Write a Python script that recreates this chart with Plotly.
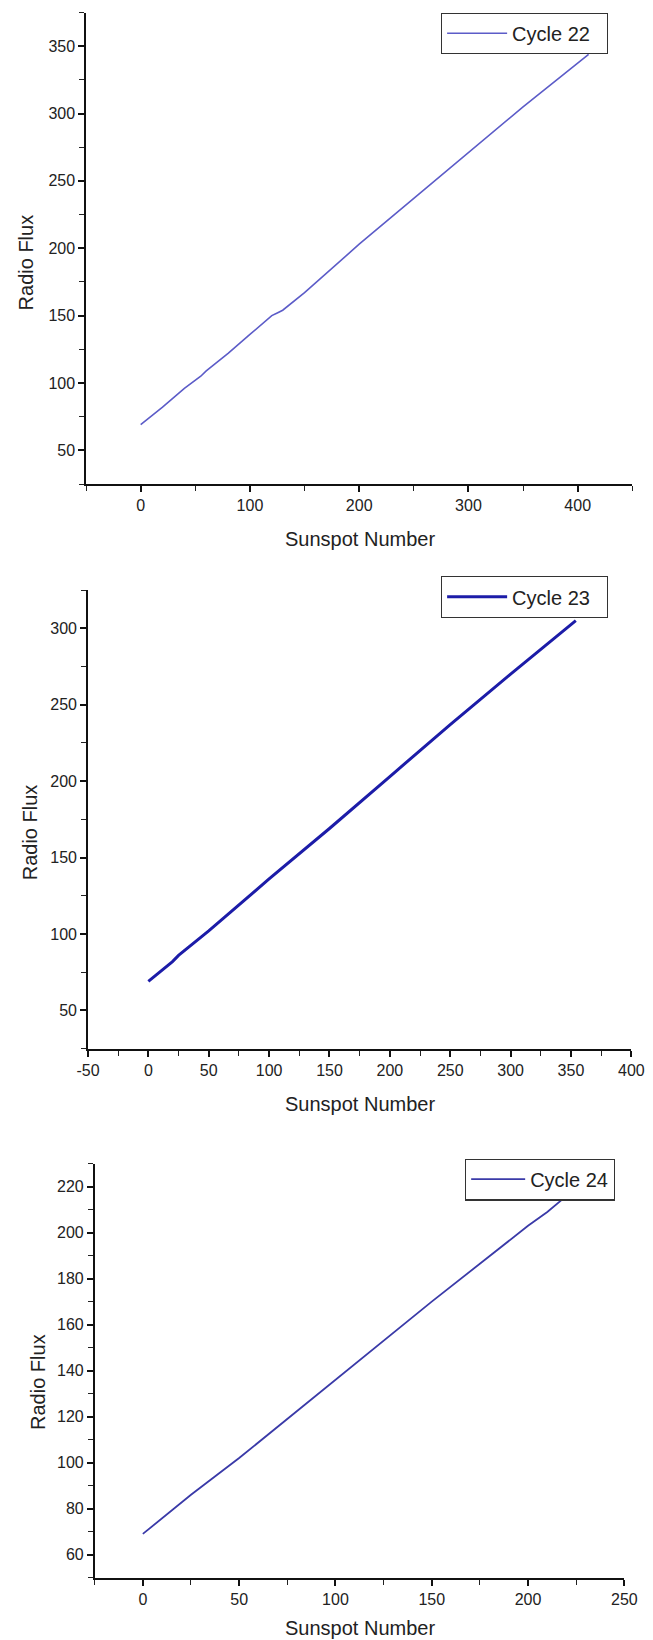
import plotly.graph_objects as go

# ---- data ----
c22_ssn = [0, 20, 40, 55, 60, 80, 100, 115, 120, 125, 130, 150, 200, 250, 300, 350, 410]
c22_flux = [69, 82, 96, 105, 109, 122, 136, 146, 150, 152, 154, 167, 203, 237, 271, 305, 344]

c23_ssn = [0, 20, 25, 50, 100, 150, 200, 250, 300, 320, 354]
c23_flux = [69, 82, 86, 102, 136, 169, 203, 237, 270, 283, 305]

c24_ssn = [0, 22, 25, 50, 100, 150, 200, 210, 220]
c24_flux = [69, 84, 86, 102, 136, 170, 203, 209, 216]

labels = ["Cycle 22", "Cycle 23", "Cycle 24"]
x_title = "Sunspot Number"
y_title = "Radio Flux"
x2_ticks = [-50, 0, 50, 100, 150, 200, 250, 300, 350, 400]

W, H = 653, 1640
FONT = "Liberation Sans, Arial, sans-serif"
PAD = "\u00a0" * 2

fig = go.Figure()
fig.add_trace(go.Scatter(x=c22_ssn, y=c22_flux, mode="lines", name=labels[0] + PAD,
                         line=dict(color="#5c5cc8", width=1.6), xaxis="x", yaxis="y", legend="legend"))
fig.add_trace(go.Scatter(x=c23_ssn, y=c23_flux, mode="lines", name=labels[1] + PAD,
                         line=dict(color="#1c1ca8", width=3), xaxis="x2", yaxis="y2", legend="legend2"))
fig.add_trace(go.Scatter(x=c24_ssn, y=c24_flux, mode="lines", name=labels[2],
                         line=dict(color="#3a3aa8", width=1.8), xaxis="x3", yaxis="y3", legend="legend3"))

def px_x(p):
    return p / W

def px_y(p):
    return 1 - p / H

def ax(domain, rng, dtick, minor, anchor, lw=1.5):
    return dict(domain=domain, range=rng, dtick=dtick, tick0=0, anchor=anchor,
                showgrid=False, zeroline=False, showline=True, linecolor="#111", linewidth=lw,
                ticks="outside", ticklen=6, tickwidth=1.5, tickcolor="#111",
                minor=dict(dtick=minor, ticks="outside", ticklen=5, tickwidth=1.2, tickcolor="#222", showgrid=False),
                tickfont=dict(family=FONT, size=16, color="#222"), fixedrange=True)

# panel domains (pixels measured from reference)
p1 = dict(x=(77, 645), y=(12.5, 484))
p2 = dict(x=(79, 644), y=(590, 1048.7))
p3 = dict(x=(86, 636.7), y=(1163.7, 1577.6))

def dx(p):
    return [px_x(p["x"][0]), px_x(p["x"][1])]

def dy(p):
    return [px_y(p["y"][1]), px_y(p["y"][0])]

x2 = ax(dx(p2), [-50, 400], 50, 25, "y2", lw=2)
x2.update(tickmode="array", tickvals=x2_ticks, ticktext=[str(v) for v in x2_ticks])

layout = dict(
    width=W, height=H, margin=dict(l=0, r=0, t=0, b=0),
    paper_bgcolor="white", plot_bgcolor="white",
    xaxis=ax(dx(p1), [-50, 450], 100, 50, "y", lw=2),
    yaxis=ax(dy(p1), [25, 375], 50, 25, "x"),
    xaxis2=x2,
    yaxis2=ax(dy(p2), [25, 325], 50, 25, "x2"),
    xaxis3=ax(dx(p3), [-25, 250], 50, 25, "y3", lw=2),
    yaxis3=ax(dy(p3), [50, 230], 20, 10, "x3"),
    showlegend=True,
)

def leg(xpx, ypx, iw):
    return dict(x=px_x(xpx), y=px_y(ypx), xanchor="left", yanchor="top",
                bordercolor="#333", borderwidth=1.2, bgcolor="white",
                font=dict(family=FONT, size=20, color="#222"), itemwidth=iw)

layout["legend"] = leg(446, 12.5, 60)
layout["legend2"] = leg(446, 576, 60)
layout["legend3"] = leg(471, 1158.5, 54)

fig.update_layout(**layout)

annots = []
for cx, cy in [(362, 539), (362, 1104), (362, 1628)]:
    annots.append(dict(text=x_title, x=px_x(cx), y=px_y(cy), xref="paper", yref="paper",
                       xanchor="center", yanchor="middle", showarrow=False,
                       font=dict(family=FONT, size=20, color="#222")))
for cx, cy in [(15, 262), (19, 832), (27, 1382)]:
    annots.append(dict(text=y_title, x=px_x(cx), y=px_y(cy), xref="paper", yref="paper",
                       xanchor="center", yanchor="middle", showarrow=False, textangle=-90,
                       font=dict(family=FONT, size=20, color="#222")))
fig.update_layout(annotations=annots)

fig.write_html("out.html")
